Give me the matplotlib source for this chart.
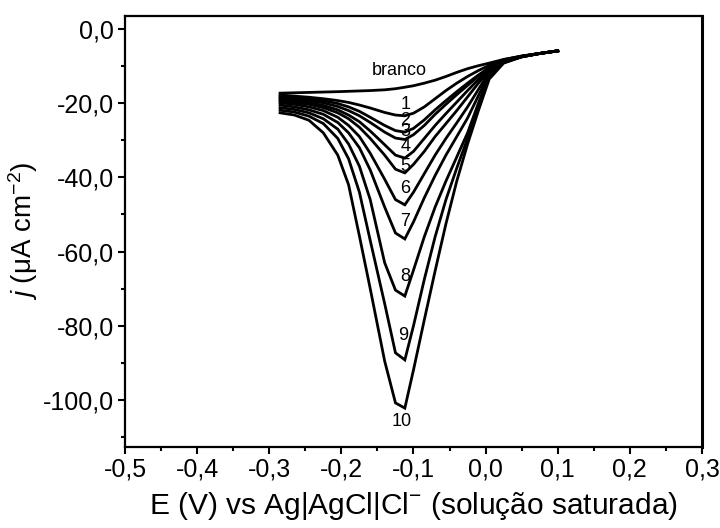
import matplotlib
matplotlib.use("Agg")
import matplotlib.pyplot as plt
from matplotlib.ticker import MultipleLocator, FuncFormatter

plt.rcParams["font.family"] = ["Liberation Sans", "DejaVu Sans"]
plt.rcParams["mathtext.fontset"] = "custom"
plt.rcParams["mathtext.rm"] = "Liberation Sans"
plt.rcParams["mathtext.it"] = "Liberation Sans:italic"

# Potential (V vs Ag|AgCl|Cl-)
potential = [-0.285, -0.265, -0.245, -0.225, -0.205, -0.19, -0.175, -0.16, -0.14,
             -0.125, -0.112, -0.10, -0.085, -0.07, -0.055, -0.04, -0.025, -0.01,
             0.005, 0.025, 0.05, 0.075, 0.10]

# Current density (uA cm-2) for the blank and additions 1-10
branco = [-17.3, -17.2, -17.1, -17.0, -16.9, -16.8, -16.7, -16.6, -16.4, -16.1, -15.7,
          -15.3, -14.6, -13.8, -12.8, -11.7, -10.7, -9.9, -9.2, -8.2, -7.3, -6.6, -5.9]
c1 = [-17.8, -18.1, -18.4, -18.8, -19.3, -19.8, -20.5, -21.3, -22.5, -23.2, -23.4,
      -22.7, -21.0, -18.8, -16.6, -14.6, -12.8, -11.2, -9.8, -8.3, -7.3, -6.6, -5.9]
c2 = [-18.2, -18.5, -18.8, -19.3, -20.1, -21.0, -22.2, -23.8, -26.0, -27.4, -27.8,
      -26.8, -24.5, -21.8, -19.3, -16.9, -14.6, -12.4, -10.4, -8.4, -7.4, -6.6, -5.9]
c3 = [-18.6, -18.9, -19.3, -19.9, -20.9, -22.0, -23.4, -25.2, -27.8, -29.4, -29.8,
      -28.5, -26.0, -23.0, -20.3, -17.7, -15.2, -12.7, -10.5, -8.5, -7.4, -6.6, -5.9]
c4 = [-19.0, -19.3, -19.8, -20.6, -21.8, -23.2, -25.0, -27.5, -31.2, -34.0, -34.8,
      -33.0, -29.5, -26.0, -22.8, -19.7, -16.6, -13.6, -10.9, -8.6, -7.4, -6.6, -5.9]
c5 = [-19.4, -19.8, -20.3, -21.2, -22.6, -24.2, -26.5, -29.5, -34.0, -37.8, -38.8,
      -36.5, -33.0, -29.0, -25.5, -22.0, -18.3, -14.6, -11.2, -8.7, -7.4, -6.6, -5.9]
c6 = [-19.9, -20.3, -21.0, -22.0, -23.8, -26.0, -29.0, -33.5, -40.5, -46.0, -47.4,
      -44.0, -39.0, -34.0, -29.5, -25.3, -21.0, -16.3, -11.6, -8.8, -7.5, -6.6, -5.9]
c7 = [-20.5, -21.0, -21.8, -23.0, -25.2, -28.0, -32.0, -38.0, -48.0, -55.0, -56.6,
      -52.0, -45.5, -39.5, -34.0, -29.0, -24.0, -18.0, -12.0, -8.9, -7.5, -6.6, -5.9]
c8 = [-21.2, -21.7, -22.6, -24.2, -27.0, -31.0, -37.0, -46.0, -63.0, -70.4, -72.0,
      -65.0, -56.0, -48.0, -41.0, -34.5, -28.0, -20.0, -12.5, -9.0, -7.5, -6.6, -5.9]
c9 = [-21.9, -22.4, -23.5, -25.5, -29.5, -35.0, -44.0, -57.0, -74.0, -87.3, -89.2,
      -80.0, -67.5, -56.0, -46.0, -37.5, -29.5, -21.0, -12.8, -9.1, -7.5, -6.6, -5.9]
c10 = [-22.6, -23.2, -24.6, -28.0, -34.0, -42.0, -55.8, -70.0, -89.5, -100.8, -102.2,
       -91.9, -78.4, -65.2, -52.5, -41.0, -31.0, -22.0, -13.5, -9.2, -7.5, -6.6, -5.9]

curves = [branco, c1, c2, c3, c4, c5, c6, c7, c8, c9, c10]
curve_labels = ["branco", "1", "2", "3", "4", "5", "6", "7", "8", "9", "10"]
# label anchor points (E, j)
label_pos = [(-0.119, -11.3), (-0.111, -20.3), (-0.111, -24.8), (-0.111, -27.6),
             (-0.111, -31.8), (-0.111, -37.2), (-0.111, -42.9), (-0.111, -52.0),
             (-0.111, -66.8), (-0.114, -82.7), (-0.116, -105.9)]

fig = plt.figure(figsize=(7.2, 5.28), dpi=100)
ax = fig.add_axes([0.1736, 0.154, 0.8014, 0.8157])

for j in curves:
    ax.plot(potential, j, color="black", lw=2.0, solid_joinstyle="miter")

for txt, (xp, yp) in zip(curve_labels, label_pos):
    ax.text(xp, yp, txt, ha="center", va="center", fontsize=13, color="black")

ax.set_xlim(-0.5, 0.3)
ax.set_ylim(-112.6, 3.5)


def comma_fmt(v, pos):
    s = "%.1f" % v
    if s == "-0.0":
        s = "0.0"
    return s.replace(".", ",")


ax.xaxis.set_major_locator(MultipleLocator(0.1))
ax.xaxis.set_minor_locator(MultipleLocator(0.05))
ax.yaxis.set_major_locator(MultipleLocator(20))
ax.yaxis.set_minor_locator(MultipleLocator(10))
ax.xaxis.set_major_formatter(FuncFormatter(comma_fmt))
ax.yaxis.set_major_formatter(FuncFormatter(comma_fmt))

ax.tick_params(which="major", direction="out", length=5, width=1.5, labelsize=18,
               pad=3)
ax.tick_params(which="minor", direction="out", length=3, width=1.5)
for s in ax.spines.values():
    s.set_linewidth(1.6)
ax.spines["right"].set_linewidth(2.2)

ax.set_xlabel(r"E (V) vs Ag|AgCl|Cl$^{-}$ (solução saturada)", fontsize=21.5, labelpad=6)
ax.set_ylabel("$j$ (\u03bcA cm$^{-2}$)", fontsize=20, labelpad=2)

fig.savefig("out.png", dpi=100)
